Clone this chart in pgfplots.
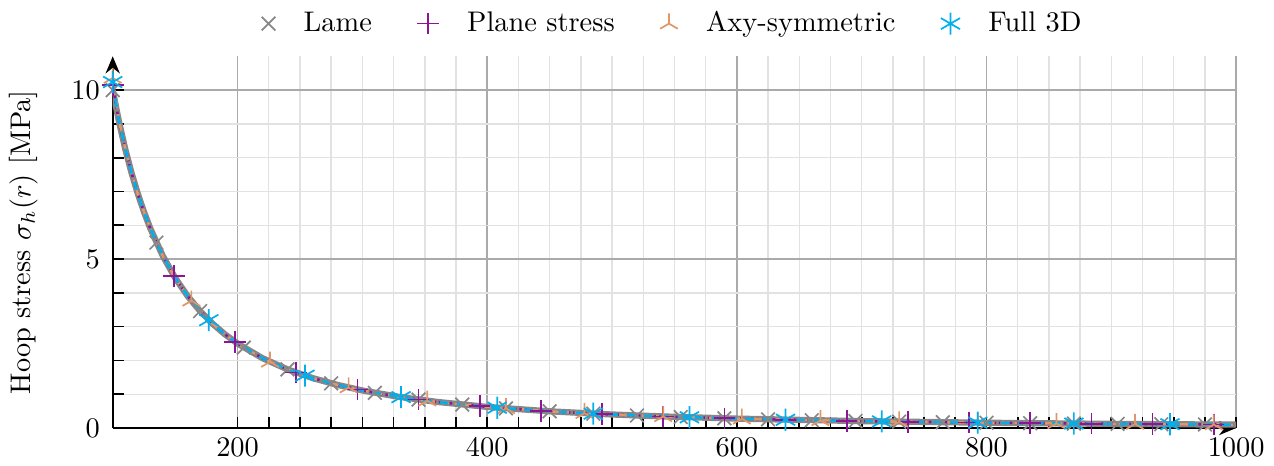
\documentclass[border=0pt]{standalone}
\usepackage{pgfplots}
\pgfplotsset{compat=1.18}
\usetikzlibrary{arrows.meta,plotmarks}
\definecolor{lamegray}{RGB}{135,135,135}
\definecolor{pspurple}{RGB}{140,20,150}
\definecolor{axyorange}{RGB}{225,150,105}
\definecolor{fullcyan}{RGB}{0,175,235}
\definecolor{majgrid}{RGB}{170,170,170}
\definecolor{mingrid}{RGB}{226,226,226}

\begin{document}
\begin{tikzpicture}
\begin{axis}[
  width=396pt, height=131pt, scale only axis,
  xmin=100, xmax=1000, ymin=0, ymax=11,
  axis lines=left,
  axis line style={black, line width=0.8pt, -{Stealth[length=6pt,width=5pt]}},
  xtick={200,400,600,800,1000},
  ytick={0,5,10},
  minor x tick num=7,
  minor y tick num=4,
  extra y ticks={11}, extra y tick labels={},
  extra y tick style={grid=minor, major tick length=0pt},
  /pgf/number format/set thousands separator={},
  grid=both,
  major grid style={majgrid, line width=0.6pt},
  minor grid style={mingrid, line width=0.5pt},
  tick style={black, line width=0.6pt},
  major tick length=4pt, minor tick length=4pt,
  tick align=inside,
  yticklabel style={xshift=-1pt},
  ylabel={Hoop stress $\sigma_h(r)$ [MPa]},
  ylabel style={yshift=5pt},
  legend style={draw=none, fill=none, at={(0.5,1)}, anchor=south, yshift=3pt,
    legend columns=4,
    /tikz/every odd column/.append style={column sep=8pt},
    /tikz/every even column/.append style={column sep=14pt}},
  legend cell align=left,
]
% continuous curves
\addplot[lamegray, line width=2.2pt, forget plot] coordinates {
(100,10.000)(105,9.070)(110,8.264)(115,7.561)(120,6.944)(125,6.400)(130,5.917)
(140,5.102)(150,4.444)(160,3.906)(170,3.460)(180,3.086)(190,2.770)(200,2.500)
(220,2.066)(240,1.736)(260,1.479)(280,1.276)(300,1.111)(330,0.918)(360,0.772)
(400,0.625)(450,0.494)(500,0.400)(550,0.331)(600,0.278)(700,0.204)(800,0.156)
(900,0.123)(1000,0.100)};
\addplot[pspurple, line width=0.9pt, densely dotted, forget plot] coordinates {
(100,10.150)(105,9.070)(110,8.264)(115,7.561)(120,6.944)(125,6.400)(130,5.917)
(140,5.102)(150,4.444)(160,3.906)(170,3.460)(180,3.086)(190,2.770)(200,2.500)
(220,2.066)(240,1.736)(260,1.479)(280,1.276)(300,1.111)(330,0.918)(360,0.772)
(400,0.625)(450,0.494)(500,0.400)(550,0.331)(600,0.278)(700,0.204)(800,0.156)
(900,0.123)(1000,0.100)};
\addplot[axyorange, line width=0.9pt, dash dot, forget plot] coordinates {
(100,10.360)(105,9.100)(110,8.280)(115,7.561)(120,6.944)(125,6.400)(130,5.917)
(140,5.102)(150,4.444)(160,3.906)(170,3.460)(180,3.086)(190,2.770)(200,2.500)
(220,2.066)(240,1.736)(260,1.479)(280,1.276)(300,1.111)(330,0.918)(360,0.772)
(400,0.625)(450,0.494)(500,0.400)(550,0.331)(600,0.278)(700,0.204)(800,0.156)
(900,0.123)(1000,0.100)};
\addplot[fullcyan, line width=0.9pt, dashed, forget plot] coordinates {
(100,10.240)(105,9.080)(110,8.270)(115,7.561)(120,6.944)(125,6.400)(130,5.917)
(140,5.102)(150,4.444)(160,3.906)(170,3.460)(180,3.086)(190,2.770)(200,2.500)
(220,2.066)(240,1.736)(260,1.479)(280,1.276)(300,1.111)(330,0.918)(360,0.772)
(400,0.625)(450,0.494)(500,0.400)(550,0.331)(600,0.278)(700,0.204)(800,0.156)
(900,0.123)(1000,0.100)};
% markers
\addplot[only marks, mark=x, mark size=3.4pt, lamegray, mark options={line width=0.6pt}] coordinates {
(100,10.000)(135,5.487)(170,3.460)(205,2.380)(240,1.736)(275,1.322)(310,1.041)
(345,0.840)(380,0.693)(415,0.581)(450,0.494)(485,0.425)(520,0.370)(555,0.325)
(590,0.287)(625,0.256)(660,0.230)(695,0.207)(730,0.188)(765,0.171)(800,0.156)
(835,0.143)(870,0.132)(905,0.122)(940,0.113)(975,0.105)};
\addlegendentry{Lame}
\addplot[only marks, mark=+, mark size=3.8pt, pspurple, mark options={line width=0.6pt}] coordinates {
(100,10.150)(149,4.504)(198,2.551)(247,1.639)(296,1.141)(345,0.840)(394,0.644)
(443,0.510)(492,0.413)(541,0.342)(590,0.287)(639,0.245)(688,0.211)(737,0.184)
(786,0.162)(835,0.143)(884,0.128)(933,0.115)(982,0.104)};
\addlegendentry{Plane stress}
\addplot[only marks, mark=Mercedes star, mark size=3.6pt, axyorange, mark options={line width=0.6pt}] coordinates {
(100,10.360)(163,3.764)(226,1.958)(289,1.197)(352,0.807)(415,0.581)(478,0.438)
(541,0.342)(604,0.274)(667,0.225)(730,0.188)(793,0.159)(856,0.136)(919,0.118)
(982,0.104)};
\addlegendentry{Axy-symmetric}
\addplot[only marks, mark=asterisk, mark size=3.9pt, fullcyan, mark options={line width=0.6pt}] coordinates {
(100,10.240)(177,3.192)(254,1.550)(331,0.913)(408,0.601)(485,0.425)(562,0.317)
(639,0.245)(716,0.195)(793,0.159)(870,0.132)(947,0.112)};
\addlegendentry{Full 3D}
\end{axis}
\end{tikzpicture}
\end{document}
